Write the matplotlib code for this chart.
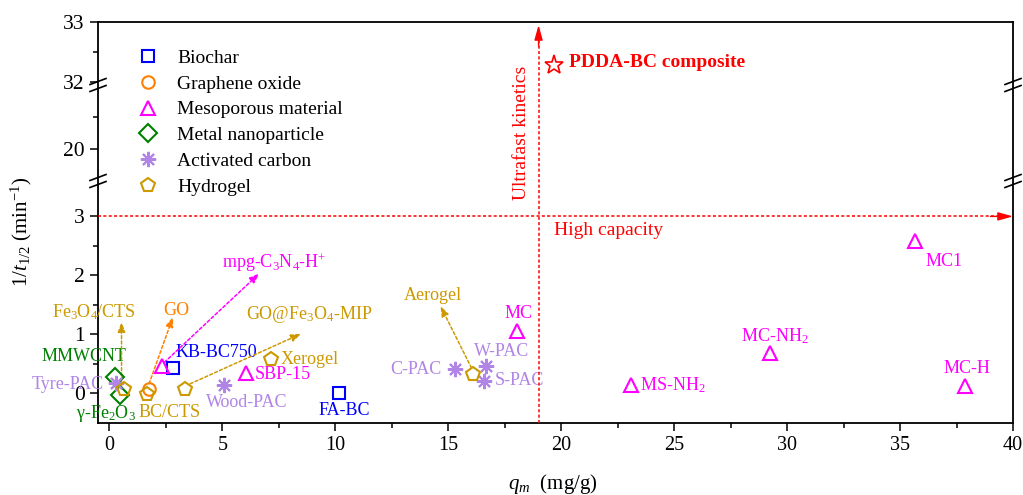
import numpy as np
import matplotlib
matplotlib.use("Agg")
import matplotlib.pyplot as plt
from matplotlib.transforms import offset_copy

plt.rcParams["font.family"] = ["Liberation Serif", "DejaVu Serif"]
plt.rcParams["mathtext.fontset"] = "custom"
plt.rcParams["mathtext.rm"] = "Liberation Serif"
plt.rcParams["mathtext.it"] = "Liberation Serif:italic"

# ---- data (q_m in mg/g, 1/t1/2 in min^-1) ----
biochar_names = ["KB-BC750", "FA-BC"]
biochar_x = [2.83, 10.18]
biochar_y = [0.44, 0.01]

go_names = ["GO"]
go_x = [1.76]
go_y = [0.08]

meso_names = ["mpg-C$_3$N$_4$-H$^{+}$", "SBP-15", "MC", "MS-NH$_2$",
              "MC-NH$_2$", "MC1", "MC-H"]
meso_x = [2.35, 6.06, 18.04, 23.1, 29.26, 35.68, 37.88]
meso_y = [0.46, 0.34, 1.06, 0.14, 0.68, 2.58, 0.12]

metal_names = ["MMWCNT", "γ-Fe$_2$O$_3$"]
metal_x = [0.24, 0.46]
metal_y = [0.28, -0.02]

ac_names = ["Tyre-PAC", "Wood-PAC", "C-PAC", "W-PAC", "S-PAC"]
ac_x = [0.31, 5.06, 15.28, 16.68, 16.58]
ac_y = [0.17, 0.15, 0.41, 0.46, 0.22]

hydro_names = ["Fe$_3$O$_4$/CTS", "BC/CTS", "GO@Fe$_3$O$_4$-MIP",
               "Xerogel", "Aerogel"]
hydro_x = [0.63, 1.67, 3.36, 7.17, 16.12]
hydro_y = [0.08, -0.01, 0.08, 0.58, 0.33]

pdda_x = [19.67]
pdda_y = [32.28]

# ---- broken y axis: data breakpoints -> pixel height inside axes ----
Y_DATA = [-0.5, 3.6, 19.5, 21.0, 31.95, 33.0]
Y_PIX = [0.0, 242.0, 242.001, 338.0, 338.001, 401.0]


def fwd(y):
    return np.interp(y, Y_DATA, Y_PIX)


def inv(p):
    return np.interp(p, Y_PIX, Y_DATA)


BLUE, ORANGE, MAGENTA = "#0000FF", "#FF7F00", "#FF00FF"
GREEN, PURPLE, GOLD, RED = "#008000", "#B085E6", "#CC9900", "#FF0000"

fig = plt.figure(figsize=(10.23, 4.95), dpi=100)
ax = fig.add_axes([98 / 1023, 1 - 423 / 495, 915 / 1023, 401 / 495])
ax.set_yscale("function", functions=(fwd, inv))
ax.set_xlim(-0.5, 40)
ax.set_ylim(-0.5, 33)

mkw = dict(ls="none", mfc="none", mew=1.5, ms=9, zorder=5)
ax.plot(biochar_x, biochar_y, marker="s", mec=BLUE, label="Biochar", **mkw)
ax.plot(go_x, go_y, marker="o", mec=ORANGE, label="Graphene oxide", **mkw)
ax.plot(meso_x, meso_y, marker="^", mec=MAGENTA, label="Mesoporous material",
        **{**mkw, "ms": 10})
ax.plot(metal_x, metal_y, marker="D", mec=GREEN, label="Metal nanoparticle",
        **{**mkw, "ms": 9})
ax.plot(ac_x, ac_y, marker=(8, 2, 0), mec=PURPLE, label="Activated carbon",
        **{**mkw, "ms": 11})
ax.plot(hydro_x, hydro_y, marker="p", mec=GOLD, label="Hydrogel",
        **{**mkw, "ms": 10.5})
ax.plot(pdda_x, pdda_y, marker="*", mec=RED, ls="none", mfc="none",
        mew=1.2, ms=14, zorder=5)


def off(dx, dy):
    return offset_copy(ax.transData, fig=fig, x=dx, y=dy, units="dots")


def label(x, y, text, dx, dy, color, ha="center", size=13, **kw):
    ax.text(x, y, text, transform=off(dx, dy), ha=ha, va="center",
            color=color, fontsize=size, **kw)


def arrow(x, y, tail, tip, color):
    ax.annotate("", xy=(x, y), xycoords=off(*tip), xytext=(x, y),
                textcoords=off(*tail),
                arrowprops=dict(arrowstyle="-|>,head_length=0.6,head_width=0.22",
                                color=color, lw=1.1, ls=(0, (2, 1.5)),
                                shrinkA=0, shrinkB=0))


# label offsets in pixels (right, up)
label(biochar_x[0], biochar_y[0], biochar_names[0], 2, 15, BLUE, ha="left")
label(biochar_x[1], biochar_y[1], biochar_names[1], 5, -18, BLUE)

label(go_x[0], go_y[0], go_names[0], 27, 78, ORANGE)
arrow(go_x[0], go_y[0], (0, 5), (24, 72), ORANGE)

meso_off = [(112, 104, "center"), (9, -1, "left"), (2, 17, "center"),
            (9, 0, "left"), (4, 17, "center"), (29, -20, "center"),
            (2, 18, "center")]
for x, y, n, (dx, dy, ha) in zip(meso_x, meso_y, meso_names, meso_off):
    label(x, y, n, dx, dy, MAGENTA, ha=ha)
arrow(meso_x[0], meso_y[0], (2, 4), (97, 93), MAGENTA)

label(metal_x[0], metal_y[0], metal_names[0], -31, 20, GREEN)
label(metal_x[1], metal_y[1], metal_names[1], -14, -19, GREEN)

ac_off = [(-12, -1, "right"), (23, -18, "center"), (-13, 0, "right"),
          (15, 15, "center"), (11, 0, "left")]
for x, y, n, (dx, dy, ha) in zip(ac_x, ac_y, ac_names, ac_off):
    label(x, y, n, dx, dy, PURPLE, ha=ha)

hydro_off = [(-30, 77, "center"), (23, -18, "center"), (124, 74, "center"),
             (9, 0, "left"), (-41, 79, "center")]
for x, y, n, (dx, dy, ha) in zip(hydro_x, hydro_y, hydro_names, hydro_off):
    label(x, y, n, dx, dy, GOLD, ha=ha)
arrow(hydro_x[0], hydro_y[0], (-2, 2), (-2, 67), GOLD)
arrow(hydro_x[2], hydro_y[2], (5, 5), (116, 55), GOLD)
arrow(hydro_x[4], hydro_y[4], (-2, 6), (-33, 68), GOLD)

label(pdda_x[0], pdda_y[0], "PDDA-BC composite", 15, 3, RED, ha="left",
      size=14, fontweight="bold")

# guide lines
dash = dict(color=RED, lw=1.1, ls=(0, (2, 1.5)), zorder=3)
ax.plot([-0.5, 39.6], [3, 3], **dash)
ax.plot([19, 19], [-0.5, 32.9], **dash)
head = dict(arrowstyle="-|>,head_length=0.9,head_width=0.25", color=RED,
            lw=1.0, shrinkA=0, shrinkB=0)
ax.annotate("", xy=(40, 3), xytext=(39.0, 3), arrowprops=head, zorder=4)
ax.annotate("", xy=(19, 32.95), xytext=(19, 32.6), arrowprops=head, zorder=4)
ax.text(19.68, 2.76, "High capacity", color=RED, fontsize=14, va="center")
ax.text(18.23, 20.25, "Ultrafast kinetics", color=RED, fontsize=14,
        rotation=90, ha="center", va="center")

# ticks
ax.set_xticks(np.arange(0, 41, 5))
ax.set_xticks(np.arange(2.5, 40, 5), minor=True)
ax.set_yticks([0, 1, 2, 3, 20, 32, 33])
ax.set_yticks([0.5, 1.5, 2.5, 20.5, 32.5], minor=True)
ax.set_yticklabels(["0", "1", "2", "3", "20", "32", "33"])
ax.tick_params(which="both", direction="out", top=False, right=False,
               width=1.1)
ax.tick_params(axis="x", labelsize=14.5)
ax.tick_params(axis="y", labelsize=15.5)
ax.tick_params(which="major", length=6)
ax.tick_params(which="minor", length=3.5)
for s in ax.spines.values():
    s.set_linewidth(1.3)

# axis break marks
for yb in (242 / 401, 338 / 401):
    for x0 in (0, 1):
        for d in (-3.5, 3.5):
            ax.plot([x0 - 8 / 915, x0 + 8 / 915],
                    [yb + (d - 3) / 401, yb + (d + 3) / 401],
                    transform=ax.transAxes, clip_on=False, color="k", lw=1.2,
                    zorder=6)

ax.set_xlabel(r"$q_m$  (mg/g)", fontsize=15, va="center")
ax.set_ylabel(r"1/$t_{\rm 1/2}$ (min$^{-1}$)", fontsize=15, va="center")
ax.xaxis.set_label_coords(0.497, -0.153)
ax.yaxis.set_label_coords(-0.084, 0.476)

ax.legend(loc="upper left", bbox_to_anchor=(0.044, 0.932), frameon=False,
          fontsize=14, handlelength=1.0, handletextpad=1.0, borderpad=0,
          borderaxespad=0, labelspacing=0.42)

fig.savefig("out.png", dpi=100)
